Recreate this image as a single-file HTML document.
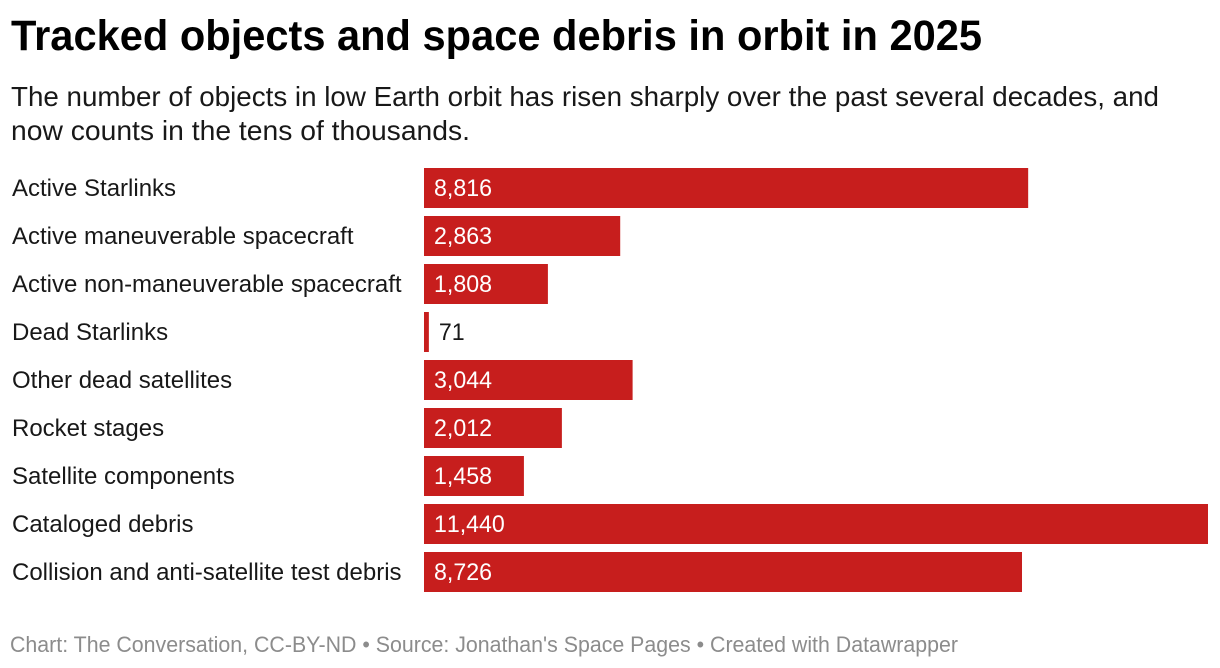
<!DOCTYPE html>
<html lang="en">
<head>
<meta charset="utf-8">
<title>Tracked objects and space debris in orbit in 2025</title>
<style>
html,body{margin:0;padding:0;background:#fff;width:1220px;height:668px;overflow:hidden}
svg{display:block;font-family:"Liberation Sans",sans-serif}
</style>
</head>
<body>
<svg id="chart" width="1220" height="668" viewBox="0 0 1220 668">
  <rect x="0" y="0" width="1220" height="668" fill="#ffffff"/>
  <text x="11" y="50" font-size="43" font-weight="700" fill="#000" textLength="971" lengthAdjust="spacingAndGlyphs">Tracked objects and space debris in orbit in 2025</text>
  <text x="11" y="106" font-size="28" fill="#181818" textLength="1148" lengthAdjust="spacingAndGlyphs">The number of objects in low Earth orbit has risen sharply over the past several decades, and</text>
  <text x="11" y="140" font-size="28" fill="#181818" textLength="459" lengthAdjust="spacingAndGlyphs">now counts in the tens of thousands.</text>
  <g id="rows"></g>
  <text x="10" y="652" font-size="22" fill="#8c8c8c" textLength="948" lengthAdjust="spacingAndGlyphs">Chart: The Conversation, CC-BY-ND • Source: Jonathan's Space Pages • Created with Datawrapper</text>
</svg>
<script>
const categories = ["Active Starlinks","Active maneuverable spacecraft","Active non-maneuverable spacecraft","Dead Starlinks","Other dead satellites","Rocket stages","Satellite components","Cataloged debris","Collision and anti-satellite test debris"];
const values = [8816,2863,1808,71,3044,2012,1458,11440,8726];

const NS = "http://www.w3.org/2000/svg";
const plotLeft = 424, plotRight = 1208, plotTop = 168, rowStep = 48, barHeight = 40;
const maxValue = Math.max.apply(null, values);
function xScale(v){ return (v / maxValue) * (plotRight - plotLeft); }
function yScale(i){ return plotTop + i * rowStep; }
function fmt(v){ return v.toLocaleString("en-US"); }

const rows = document.getElementById("rows");
categories.forEach(function(cat, i){
  const y = yScale(i), w = xScale(values[i]);

  const label = document.createElementNS(NS, "text");
  label.setAttribute("x", 12);
  label.setAttribute("y", y + 28);
  label.setAttribute("font-size", 24);
  label.setAttribute("fill", "#181818");
  
  
  label.textContent = cat;
  rows.appendChild(label);

  const bar = document.createElementNS(NS, "rect");
  bar.setAttribute("x", plotLeft);
  bar.setAttribute("y", y);
  bar.setAttribute("width", w);
  bar.setAttribute("height", barHeight);
  bar.setAttribute("fill", "#c71e1d");
  
  
  rows.appendChild(bar);

  const inside = w > 60;
  const val = document.createElementNS(NS, "text");
  val.setAttribute("x", inside ? plotLeft + 10 : plotLeft + w + 10);
  val.setAttribute("y", y + 28);
  val.setAttribute("font-size", 24);
  val.setAttribute("fill", inside ? "#ffffff" : "#181818");
  val.setAttribute("style", "font-kerning:none");
  
  
  val.textContent = fmt(values[i]);
  rows.appendChild(val);
  val.setAttribute("textLength", (val.getComputedTextLength() * 0.965).toFixed(1));
  val.setAttribute("lengthAdjust", "spacingAndGlyphs");
});
</script>
</body>
</html>
